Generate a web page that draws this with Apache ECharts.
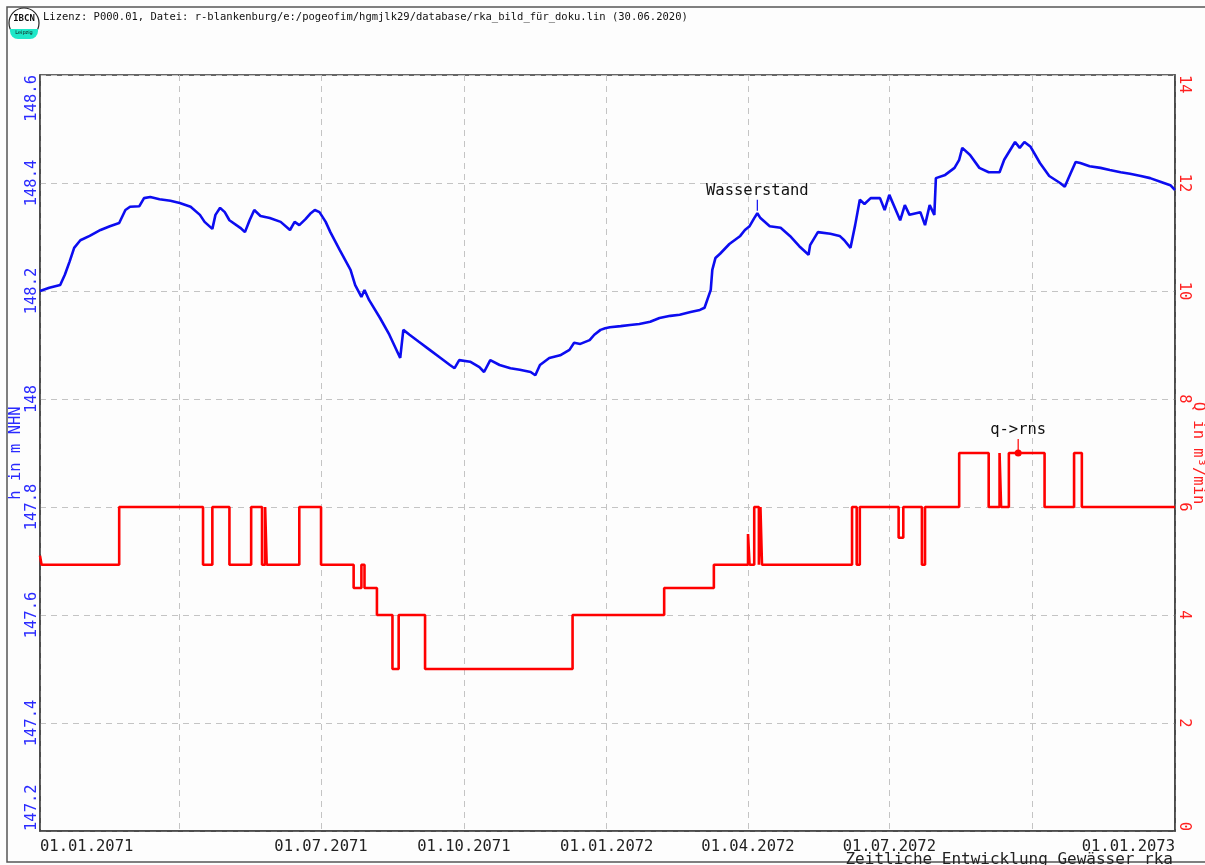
<!DOCTYPE html>
<html><head><meta charset="utf-8">
<script src="https://cdn.jsdelivr.net/npm/echarts@6/dist/echarts.min.js"></script>
<style>html,body{margin:0;padding:0;background:#fdfdfd;} #c{width:1205px;height:865px;}</style>
</head><body><div id="c"></div>
<script>
// Wasserstand (h in m NHN)
const wDates = ['2071-01-01','2071-01-07','2071-01-14','2071-01-17','2071-01-20','2071-01-23','2071-01-27','2071-02-02','2071-02-09','2071-02-15','2071-02-21','2071-02-25','2071-02-28','2071-03-06','2071-03-09','2071-03-13','2071-03-19','2071-03-26','2071-04-01','2071-04-08','2071-04-14','2071-04-17','2071-04-22','2071-04-24','2071-04-27','2071-04-30','2071-05-03','2071-05-10','2071-05-13','2071-05-16','2071-05-19','2071-05-23','2071-05-29','2071-06-05','2071-06-11','2071-06-14','2071-06-17','2071-06-21','2071-06-24','2071-06-27','2071-06-30','2071-07-04','2071-07-07','2071-07-13','2071-07-20','2071-07-23','2071-07-27','2071-07-29','2071-08-01','2071-08-08','2071-08-14','2071-08-21','2071-08-23','2071-08-27','2071-09-02','2071-09-09','2071-09-16','2071-09-22','2071-09-25','2071-09-28','2071-10-05','2071-10-11','2071-10-14','2071-10-18','2071-10-24','2071-10-31','2071-11-06','2071-11-13','2071-11-16','2071-11-19','2071-11-25','2071-12-02','2071-12-08','2071-12-11','2071-12-15','2071-12-21','2071-12-24','2071-12-28','2071-12-31','2072-01-03','2072-01-10','2072-01-16','2072-01-22','2072-01-29','2072-02-04','2072-02-11','2072-02-17','2072-02-24','2072-03-01','2072-03-04','2072-03-08','2072-03-09','2072-03-11','2072-03-14','2072-03-20','2072-03-27','2072-03-30','2072-04-02','2072-04-05','2072-04-07','2072-04-09','2072-04-15','2072-04-22','2072-04-28','2072-05-04','2072-05-10','2072-05-11','2072-05-16','2072-05-24','2072-05-30','2072-06-02','2072-06-06','2072-06-09','2072-06-12','2072-06-15','2072-06-19','2072-06-25','2072-06-28','2072-07-01','2072-07-08','2072-07-11','2072-07-14','2072-07-21','2072-07-24','2072-07-27','2072-07-30','2072-07-31','2072-08-06','2072-08-12','2072-08-15','2072-08-17','2072-08-22','2072-08-28','2072-09-03','2072-09-10','2072-09-13','2072-09-20','2072-09-23','2072-09-26','2072-09-30','2072-10-06','2072-10-12','2072-10-19','2072-10-22','2072-10-25','2072-10-29','2072-11-01','2072-11-07','2072-11-14','2072-11-20','2072-11-27','2072-12-03','2072-12-10','2072-12-16','2072-12-23','2072-12-29','2073-01-01'];
const wValues = [148.200,148.206,148.211,148.230,148.254,148.280,148.294,148.302,148.313,148.320,148.326,148.350,148.356,148.357,148.372,148.374,148.370,148.367,148.363,148.356,148.341,148.328,148.315,148.341,148.354,148.346,148.331,148.317,148.309,148.331,148.350,148.339,148.335,148.328,148.313,148.328,148.322,148.333,148.343,148.350,148.346,148.328,148.309,148.276,148.239,148.211,148.189,148.202,148.183,148.150,148.119,148.076,148.128,148.119,148.106,148.091,148.076,148.063,148.057,148.072,148.069,148.059,148.050,148.072,148.063,148.057,148.054,148.050,148.044,148.063,148.076,148.081,148.091,148.104,148.102,148.109,148.119,148.128,148.131,148.133,148.135,148.137,148.139,148.143,148.150,148.154,148.156,148.161,148.165,148.169,148.202,148.239,148.261,148.269,148.287,148.302,148.313,148.320,148.335,148.344,148.335,148.320,148.317,148.302,148.283,148.267,148.285,148.309,148.306,148.302,148.294,148.280,148.322,148.369,148.361,148.372,148.372,148.350,148.378,148.331,148.359,148.341,148.346,148.322,148.359,148.341,148.409,148.415,148.428,148.443,148.465,148.452,148.428,148.420,148.420,148.443,148.476,148.465,148.476,148.467,148.437,148.413,148.400,148.393,148.413,148.439,148.437,148.431,148.428,148.424,148.420,148.417,148.413,148.409,148.402,148.396,148.387];

// Q in m³/min (step values, each holds until the next date)
const qDates = ['2071-01-01','2071-01-02','2071-02-21','2071-04-16','2071-04-22','2071-05-03','2071-05-17','2071-05-24','2071-05-26','2071-05-27','2071-06-17','2071-07-01','2071-07-22','2071-07-27','2071-07-29','2071-08-06','2071-08-16','2071-08-20','2071-09-06','2071-12-10','2072-02-07','2072-03-10','2072-04-01','2072-04-02','2072-04-05','2072-04-08','2072-04-09','2072-04-10','2072-06-07','2072-06-10','2072-06-12','2072-07-07','2072-07-10','2072-07-22','2072-07-24','2072-08-15','2072-09-03','2072-09-10','2072-09-11','2072-09-16','2072-10-09','2072-10-28','2072-11-02','2073-01-01'];
const qValues = [5.1,4.93,6,4.93,6,4.93,6,4.93,6,4.93,6,4.93,4.5,4.93,4.5,4,3,4,3,4,4.5,4.93,5.5,4.93,6,4.93,6,4.93,6,4.93,6,5.43,6,4.93,6,7,6,7,6,7,6,7,6,6];

// axis ticks
const xTickDates = ['2071-01-01','2071-04-01','2071-07-01','2071-10-01','2072-01-01','2072-04-01','2072-07-01','2072-10-01','2073-01-01'];
const xLabelDates = ['2071-01-01','2071-07-01','2071-10-01','2072-01-01','2072-04-01','2072-07-01','2073-01-01'];

const wLabel = {name: 'Wasserstand', date: '2072-04-07', value: 148.344};
const qLabel = {name: 'q->rns', date: '2072-09-22', value: 7};

const headerText = 'Lizenz: P000.01, Datei: r-blankenburg/e:/pogeofim/hgmjlk29/database/rka_bild_für_doku.lin (30.06.2020)';
const footerText = 'Zeitliche Entwicklung Gewässer rka';

const MONO = 'DejaVu Sans Mono';
const ts = d => new Date(d + 'T00:00:00').getTime();
const chart = echarts.init(document.getElementById('c'), null, {renderer: 'canvas'});

function fmtDate(v) {
  const d = new Date(v);
  const p = n => (n < 10 ? '0' : '') + n;
  return p(d.getDate()) + '.' + p(d.getMonth() + 1) + '.' + d.getFullYear();
}

const gridLine = {show: true, lineStyle: {color: '#c4c4c4', type: [6, 5], width: 1}};

chart.setOption({
  backgroundColor: '#fdfdfd',
  animation: false,
  grid: {left: 40, right: 30, top: 75, bottom: 34, containLabel: false, outerBoundsMode: 'none',
    show: true, borderColor: '#333', borderWidth: 1.5, backgroundColor: 'transparent'},
  xAxis: {
    type: 'value',
    min: ts('2071-01-01'), max: ts('2073-01-01'),
    axisLine: {show: true, lineStyle: {color: '#444', width: 1.5}},
    axisTick: {show: false, customValues: xTickDates.map(ts)},
    axisLabel: {customValues: xLabelDates.map(ts), formatter: v => fmtDate(v), color: '#222', fontFamily: MONO, fontSize: 15.5, margin: 8,
      alignMinLabel: 'left', alignMaxLabel: 'right', showMinLabel: true, showMaxLabel: true, hideOverlap: false},
    splitLine: gridLine
  },
  yAxis: [
    {type: 'value', position: 'left', min: 147.2, max: 148.6, interval: 0.2,
     name: 'h in m NHN', nameLocation: 'middle', nameGap: 16, nameRotate: 90, nameMoveOverlap: false,
     nameTextStyle: {color: '#2a2aff', fontFamily: MONO, fontSize: 15.5},
     axisLine: {show: true, lineStyle: {color: '#444', width: 1.5}},
     axisTick: {show: false},
     axisLabel: {rotate: 90, color: '#2a2aff', fontFamily: MONO, fontSize: 15.5, margin: 0,
       alignMinLabel: 'left', alignMaxLabel: 'right', showMinLabel: true, showMaxLabel: true},
     splitLine: gridLine},
    {type: 'value', position: 'right', min: 0, max: 14, interval: 2,
     name: 'Q in m³/min', nameLocation: 'middle', nameGap: 15, nameRotate: -90, nameMoveOverlap: false,
     nameTextStyle: {color: '#ff2020', fontFamily: MONO, fontSize: 15.5},
     axisLine: {show: true, lineStyle: {color: '#444', width: 1.5}},
     axisTick: {show: false},
     axisLabel: {rotate: -90, color: '#ff2020', fontFamily: MONO, fontSize: 15.5, margin: 1,
       alignMinLabel: 'right', alignMaxLabel: 'left', showMinLabel: true, showMaxLabel: true},
     splitLine: {show: false}}
  ],
  series: [
    {name: 'Wasserstand', type: 'line', yAxisIndex: 0, symbol: 'none',
     data: wDates.map((d, i) => [ts(d), wValues[i]]),
     lineStyle: {color: '#0c0cf0', width: 2.6}, itemStyle: {color: '#0c0cf0'},
     markPoint: {
       symbol: 'rect', symbolSize: [1.2, 11], symbolOffset: [0, -8],
       itemStyle: {color: '#0c0cf0'},
       label: {show: true, position: 'top', distance: 1, formatter: wLabel.name, color: '#111', fontFamily: MONO, fontSize: 15.5},
       data: [{coord: [ts(wLabel.date), wLabel.value]}]
     }},
    {name: 'Q', type: 'line', yAxisIndex: 1, symbol: 'none', step: 'end',
     data: qDates.map((d, i) => [ts(d), qValues[i]]),
     lineStyle: {color: '#ff0000', width: 2.6}, itemStyle: {color: '#ff0000'},
     markPoint: {
       itemStyle: {color: '#ff0000'},
       data: [
         {coord: [ts(qLabel.date), qLabel.value], symbol: 'rect', symbolSize: [1.2, 14], symbolOffset: [0, -7],
          label: {show: true, position: 'top', distance: 1, formatter: qLabel.name, color: '#111', fontFamily: MONO, fontSize: 15.5}},
         {coord: [ts(qLabel.date), qLabel.value], symbol: 'circle', symbolSize: 7, label: {show: false}}
       ]
     }}
  ],
  graphic: [
    {type: 'rect', shape: {x: 7, y: 7, width: 1210, height: 855}, style: {fill: 'none', stroke: '#555', lineWidth: 1.5}, silent: true},
    {type: 'circle', shape: {cx: 24, cy: 23, r: 15}, style: {fill: '#ffffff', stroke: '#222', lineWidth: 1.2}},
    {type: 'rect', shape: {x: 10, y: 29, width: 28, height: 10, r: [0, 0, 8, 8]}, style: {fill: '#1ee8c8'}},
    {type: 'text', x: 24, y: 19, style: {text: 'IBCN', font: 'bold 9px "DejaVu Sans Mono"', fill: '#111', align: 'center', verticalAlign: 'middle'}},
    {type: 'text', x: 24, y: 33, style: {text: 'Leipzig', font: '5px "DejaVu Sans"', fill: '#111', align: 'center', verticalAlign: 'middle'}},
    {type: 'text', x: 43, y: 17, style: {text: headerText, font: '10.5px "DejaVu Sans Mono"', fill: '#111', verticalAlign: 'middle'}},
    {type: 'text', x: 1173, y: 860, style: {text: footerText, font: '16px "DejaVu Sans Mono"', fill: '#222', align: 'right', verticalAlign: 'middle'}}
  ]
});
</script></body></html>
